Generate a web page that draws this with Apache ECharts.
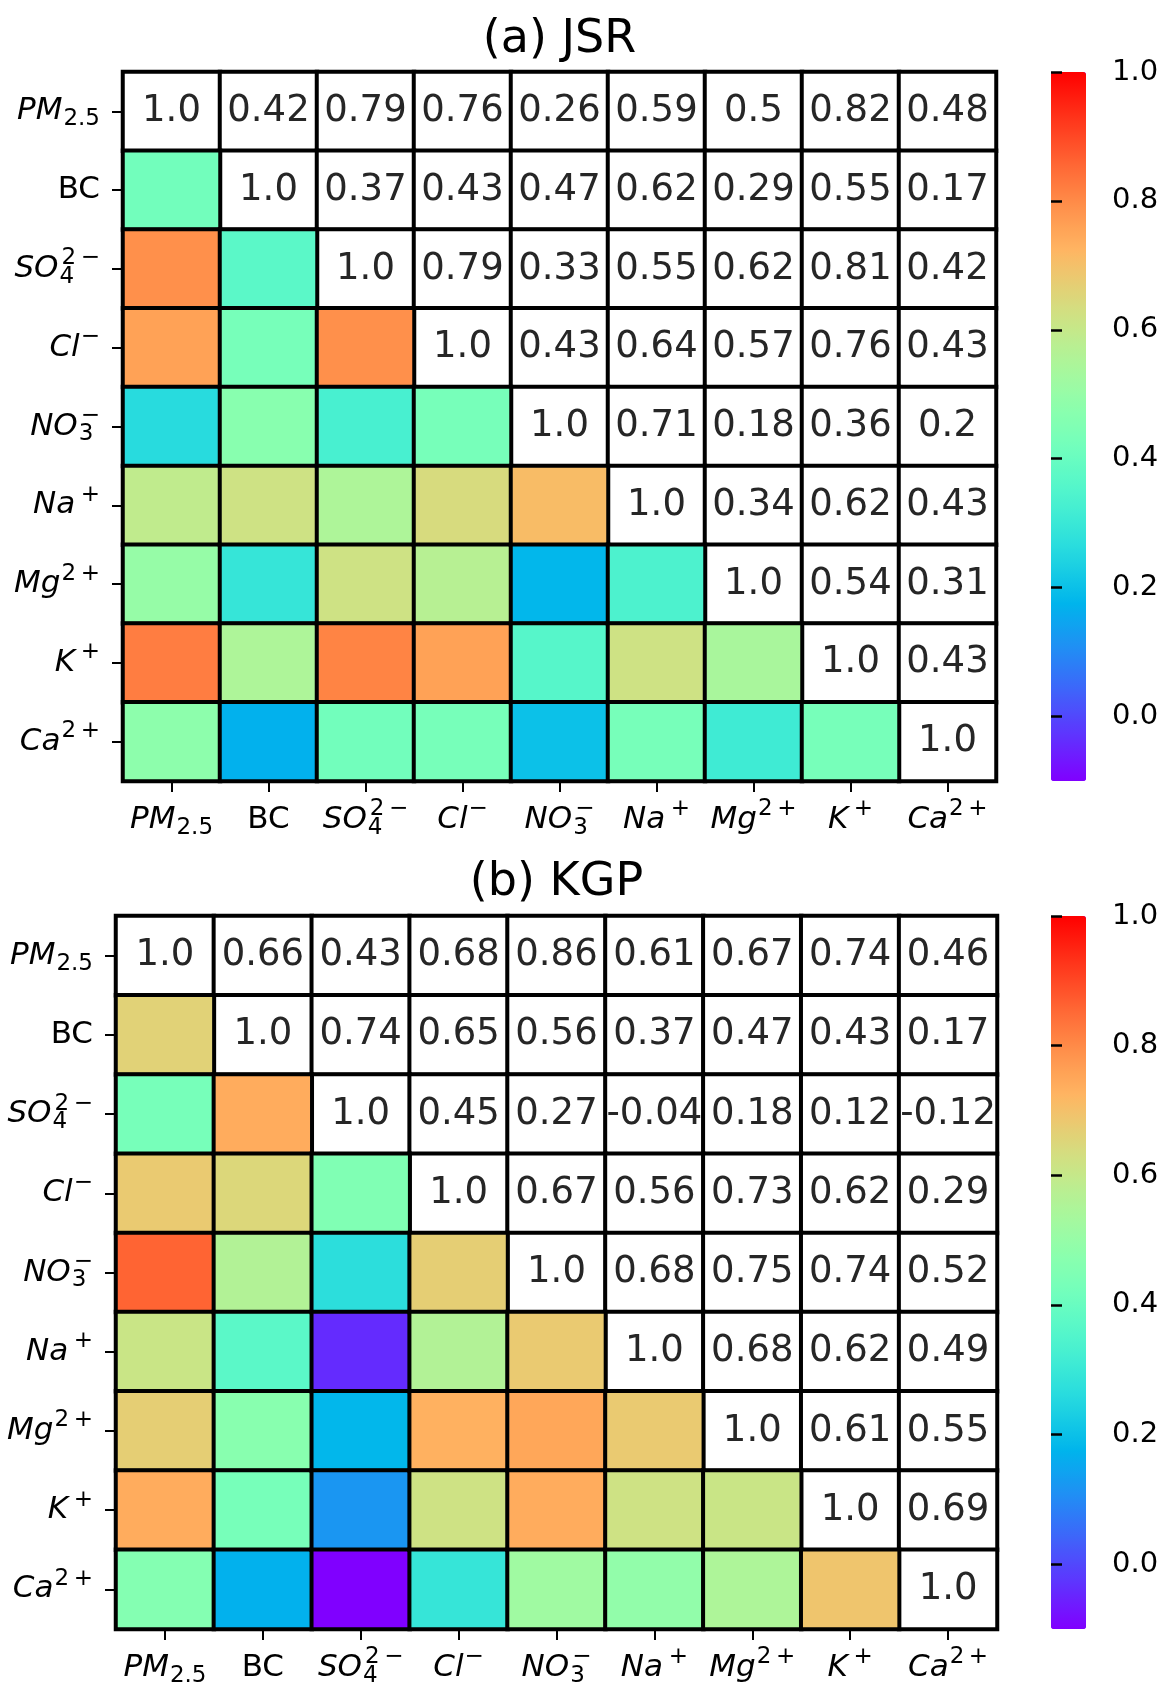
<!DOCTYPE html>
<html><head><meta charset="utf-8">
<script src="https://cdn.jsdelivr.net/npm/echarts@6/dist/echarts.min.js"></script>
<style>html,body{margin:0;padding:0;background:#fff}#c{width:1165px;height:1690px}</style>
</head><body><div id="c"></div>
<script>
// ---------------- data ----------------
const categories = ['PM2.5', 'BC', 'SO4 2-', 'Cl-', 'NO3-', 'Na+', 'Mg2+', 'K+', 'Ca2+'];
const tickLabels = [
  '{it|PM}{sub|2.5}',
  '{rm|BC}',
  '{it|SO}{subz|4}{sup|2\u2009\u2212}',
  '{it|Cl}{sup|\u2212}',
  '{it|NO}{subz|3}{sup|\u2212}',
  '{it|Na}{sup|\u2009+}',
  '{it|Mg}{sup|2\u2009+}',
  '{it|K}{sup|\u2009+}',
  '{it|Ca}{sup|2\u2009+}'
];
const titles = ['(a) JSR', '(b) KGP'];
// upper triangle rows; row i starts at column i (diagonal)
const jsrUpper = [
  [1.0, 0.42, 0.79, 0.76, 0.26, 0.59, 0.5, 0.82, 0.48],
  [1.0, 0.37, 0.43, 0.47, 0.62, 0.29, 0.55, 0.17],
  [1.0, 0.79, 0.33, 0.55, 0.62, 0.81, 0.42],
  [1.0, 0.43, 0.64, 0.57, 0.76, 0.43],
  [1.0, 0.71, 0.18, 0.36, 0.2],
  [1.0, 0.34, 0.62, 0.43],
  [1.0, 0.54, 0.31],
  [1.0, 0.43],
  [1.0]
];
const kgpUpper = [
  [1.0, 0.66, 0.43, 0.68, 0.86, 0.61, 0.67, 0.74, 0.46],
  [1.0, 0.74, 0.65, 0.56, 0.37, 0.47, 0.43, 0.17],
  [1.0, 0.45, 0.27, -0.04, 0.18, 0.12, -0.12],
  [1.0, 0.67, 0.56, 0.73, 0.62, 0.29],
  [1.0, 0.68, 0.75, 0.74, 0.52],
  [1.0, 0.68, 0.62, 0.49],
  [1.0, 0.61, 0.55],
  [1.0, 0.69],
  [1.0]
];
const colorbarTicks = [0, 0.2, 0.4, 0.6, 0.8, 1.0];
const vmin = -0.1, vmax = 1.0;

// ---------------- helpers ----------------
const F = 'DejaVu Sans';
function rainbow(x) {
  const c = v => Math.round(255 * Math.max(0, Math.min(1, v)));
  return 'rgb(' + c(Math.abs(2 * x - 0.5)) + ',' + c(Math.sin(Math.PI * x)) + ',' + c(Math.cos(Math.PI * x / 2)) + ')';
}
const stops = [];
for (let i = 0; i <= 64; i++) stops.push(rainbow(i / 64));

function buildData(upper) {
  const white = [], colored = [];
  for (let i = 0; i < upper.length; i++) {
    for (let k = 0; k < upper[i].length; k++) {
      const j = i + k, v = upper[i][k];
      white.push([j, i, v]);
      if (j !== i) colored.push([i, j, v]);
    }
  }
  return { white, colored };
}
function fmt(v) { return v === 1 ? '1.0' : String(v); }

const rich = {
  it: { fontFamily: F, fontStyle: 'italic', fontSize: 31, color: '#000', lineHeight: 40, align: 'left' },
  rm: { fontFamily: F, fontSize: 31, color: '#000', lineHeight: 40, align: 'left' },
  sub: { fontFamily: F, fontSize: 23, color: '#000', lineHeight: 40, align: 'left', padding: [16, 0, 0, 1] },
  subz: { fontFamily: F, fontSize: 23, color: '#000', lineHeight: 40, align: 'left', padding: [16, 0, 0, 1], width: 1 },
  sup: { fontFamily: F, fontSize: 23, color: '#000', lineHeight: 40, align: 'left', padding: [0, 0, 21, 1] }
};

const panels = [
  { left: 123, top: 72, width: 873, height: 709, data: buildData(jsrUpper), title: titles[0], titleY: 40 },
  { left: 116, top: 916, width: 881, height: 713, data: buildData(kgpUpper), title: titles[1], titleY: 883 }
];
const cbLeft = 1051, cbWidth = 35;

const grid = [], xAxis = [], yAxis = [], series = [], visualMap = [], graphic = [];
panels.forEach((p, pi) => {
  grid.push({ left: p.left, top: p.top, width: p.width, height: p.height, containLabel: false });
  grid.push({ left: cbLeft, top: p.top, width: cbWidth, height: p.height, containLabel: false });
  const gh = pi * 2, gc = pi * 2 + 1;
  const tick = { show: true, alignWithLabel: true, interval: 0, length: 11, lineStyle: { color: '#000', width: 2 } };
  xAxis.push({
    type: 'category', gridIndex: gh, data: categories,
    axisLine: { show: false }, splitLine: { show: false },
    axisTick: tick,
    axisLabel: { interval: 0, margin: 39, verticalAlign: 'middle', formatter: (v, i) => tickLabels[i], rich }
  });
  xAxis.push({ type: 'value', gridIndex: gc, show: false, min: 0, max: 1 });
  yAxis.push({
    type: 'category', gridIndex: gh, data: categories, inverse: true,
    axisLine: { show: false }, splitLine: { show: false },
    axisTick: tick,
    axisLabel: { interval: 0, margin: 23, formatter: (v, i) => tickLabels[i], rich }
  });
  yAxis.push({
    type: 'value', gridIndex: gc, min: vmin, max: vmax, position: 'right', z: 10,
    axisLine: { show: true, lineStyle: { color: 'rgba(0,0,0,0)', width: 1 } },
    splitLine: { show: false },
    axisTick: { show: true, inside: false, customValues: colorbarTicks, length: 11, lineStyle: { color: '#000', width: 2.5 } },
    axisLabel: { customValues: colorbarTicks, formatter: v => v.toFixed(1), margin: 26, fontSize: 29, fontFamily: F, color: '#000' }
  });
  series.push({
    type: 'heatmap', xAxisIndex: gh, yAxisIndex: gh, data: p.data.white,
    itemStyle: { color: '#fff', borderColor: '#000', borderWidth: 4 },
    label: { show: true, formatter: q => fmt(q.value[2]), fontSize: 37, fontFamily: F, color: '#262626' },
    emphasis: { disabled: true }, silent: true
  });
  series.push({
    type: 'heatmap', xAxisIndex: gh, yAxisIndex: gh, data: p.data.colored,
    itemStyle: { borderColor: '#000', borderWidth: 4 },
    label: { show: false },
    emphasis: { disabled: true }, silent: true
  });
  visualMap.push({
    type: 'continuous', seriesIndex: [pi * 2 + 1], min: vmin, max: vmax, dimension: 2,
    inRange: { color: stops }, outOfRange: { color: stops[0] },
    left: cbLeft, top: p.top, itemWidth: cbWidth, itemHeight: p.height,
    orient: 'vertical', calculable: false, hoverLink: false, padding: 0, text: null,
    showLabel: false, z: 1
  });
  graphic.push({
    type: 'text', x: p.left + p.width / 2, y: p.titleY,
    style: { text: p.title, fontSize: 46, fontFamily: F, fill: '#000', align: 'center', verticalAlign: 'middle' }
  });
});

const chart = echarts.init(document.getElementById('c'), null, { renderer: 'canvas' });
chart.setOption({
  backgroundColor: '#fff',
  animation: false,
  grid, xAxis, yAxis, series, visualMap, graphic
});
</script>
</body></html>
